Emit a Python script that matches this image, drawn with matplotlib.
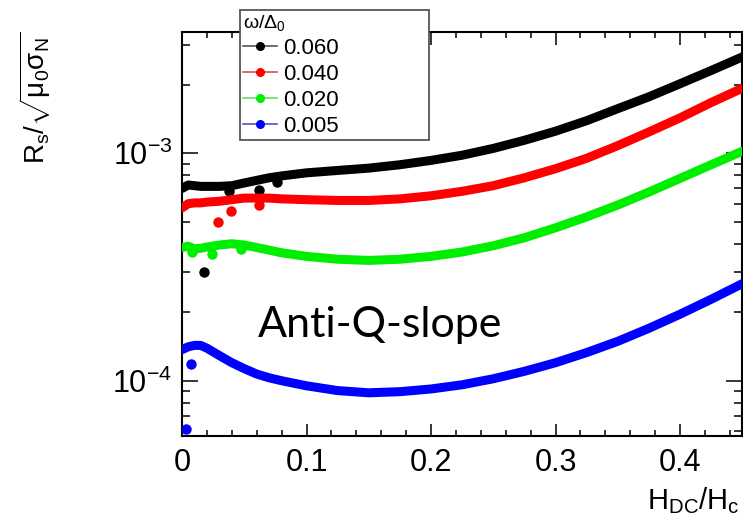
import matplotlib
matplotlib.use('Agg')
from matplotlib import pyplot as plt
from matplotlib import ticker
from matplotlib.lines import Line2D

# field values (H_DC/H_c)
h_dc = [0, 0.005, 0.01, 0.015, 0.02, 0.03, 0.04, 0.05, 0.06, 0.07, 0.08, 0.1, 0.125,
        0.15, 0.175, 0.2, 0.225, 0.25, 0.275, 0.3, 0.325, 0.35, 0.375, 0.4, 0.425, 0.45]

labels = ['0.060', '0.040', '0.020', '0.005']
colors = ['black', 'red', '#00ee00', 'blue']
line_colors = ['#555555', '#d85050', '#60e060', '#5050c8']

rs_060 = [7.0e-4, 7.25e-4, 7.2e-4, 7.15e-4, 7.15e-4, 7.15e-4, 7.2e-4, 7.4e-4, 7.6e-4, 7.8e-4,
          7.95e-4, 8.2e-4, 8.4e-4, 8.6e-4, 8.9e-4, 9.3e-4, 9.8e-4, 1.05e-3, 1.14e-3, 1.25e-3,
          1.39e-3, 1.57e-3, 1.77e-3, 2.02e-3, 2.31e-3, 2.65e-3]
rs_040 = [5.75e-4, 6.0e-4, 6.05e-4, 6.05e-4, 6.1e-4, 6.15e-4, 6.25e-4, 6.35e-4, 6.35e-4, 6.35e-4,
          6.3e-4, 6.25e-4, 6.2e-4, 6.2e-4, 6.3e-4, 6.5e-4, 6.8e-4, 7.2e-4, 7.8e-4, 8.55e-4,
          9.5e-4, 1.08e-3, 1.24e-3, 1.43e-3, 1.67e-3, 1.93e-3]
rs_020 = [3.85e-4, 3.9e-4, 3.8e-4, 3.82e-4, 3.87e-4, 3.95e-4, 4.0e-4, 3.95e-4, 3.85e-4, 3.75e-4,
          3.65e-4, 3.52e-4, 3.42e-4, 3.38e-4, 3.42e-4, 3.52e-4, 3.68e-4, 3.92e-4, 4.25e-4, 4.7e-4,
          5.25e-4, 5.92e-4, 6.75e-4, 7.75e-4, 8.9e-4, 1.02e-3]
rs_005 = [1.37e-4, 1.41e-4, 1.43e-4, 1.43e-4, 1.39e-4, 1.29e-4, 1.2e-4, 1.13e-4, 1.07e-4, 1.03e-4,
          1.0e-4, 9.5e-5, 9.05e-5, 8.85e-5, 8.95e-5, 9.2e-5, 9.6e-5, 1.02e-4, 1.1e-4, 1.2e-4,
          1.33e-4, 1.49e-4, 1.7e-4, 1.96e-4, 2.28e-4, 2.67e-4]

# scattered points off the main curves
out_h_060 = [0.018, 0.038, 0.062, 0.076]
out_rs_060 = [3.0e-4, 6.8e-4, 6.9e-4, 7.45e-4]
out_h_040 = [0.029, 0.039, 0.062]
out_rs_040 = [5.0e-4, 5.6e-4, 5.9e-4]
out_h_020 = [0.008, 0.024, 0.047]
out_rs_020 = [3.67e-4, 3.6e-4, 3.8e-4]
out_h_005 = [0.007, 0.003]
out_rs_005 = [1.19e-4, 6.15e-5]


def plot():
    plt.rcParams['font.family'] = ['Liberation Sans', 'DejaVu Sans']
    plt.rcParams['mathtext.fontset'] = 'custom'
    plt.rcParams['mathtext.rm'] = 'Liberation Sans'
    plt.rcParams['mathtext.it'] = 'Liberation Sans'
    plt.rcParams['mathtext.default'] = 'regular'

    fig = plt.figure(figsize=(7.43, 5.25), dpi=100)
    ax = fig.add_axes([0.245, 0.17, 0.754, 0.769])

    curves = [rs_060, rs_040, rs_020, rs_005]
    outliers = [(out_h_060, out_rs_060), (out_h_040, out_rs_040),
                (out_h_020, out_rs_020), (out_h_005, out_rs_005)]
    for rs, (oh, ors), c in zip(curves, outliers, colors):
        ax.plot(h_dc, rs, color=c, lw=6.5, solid_capstyle='round',
                solid_joinstyle='round', zorder=3)
        ax.plot(oh, ors, 'o', color=c, ms=7.5, mew=0, zorder=3)

    ax.set_yscale('log')
    ax.set_xlim(0, 0.45)
    ax.set_ylim(5.73e-5, 3.41e-3)

    ax.xaxis.set_major_locator(ticker.MultipleLocator(0.1))
    ax.xaxis.set_minor_locator(ticker.MultipleLocator(0.02))
    ax.xaxis.set_major_formatter(ticker.FuncFormatter(lambda v, p: '0' if v == 0 else f'{v:g}'))
    ax.yaxis.set_minor_formatter(ticker.NullFormatter())

    ax.tick_params(which='both', direction='in', top=True, right=True, width=1.1)
    ax.tick_params(axis='x', which='major', length=9, labelsize=22, pad=9)
    ax.tick_params(axis='x', which='minor', length=4.5)
    ax.tick_params(axis='y', which='major', length=11.5, labelsize=22, pad=7)
    ax.tick_params(axis='y', which='minor', length=6)
    for s in ax.spines.values():
        s.set_linewidth(1.5)

    fig.text(0.995, 0.03, r'$H_{DC}/H_c$', ha='right', va='baseline', fontsize=21)
    fig.text(0.047, 0.94, r'$R_s/\sqrt{\mu_0\sigma_N}$', rotation=90,
             ha='center', va='top', fontsize=20)

    fig.text(258 / 743, 1 - 337 / 525, 'Anti-Q-slope', family='Lato',
             fontsize=31, ha='left', va='baseline')

    handles = [Line2D([], [], color=lc, lw=1.2, marker='o', ms=5.5, mfc=c, mec=c)
               for c, lc in zip(colors, line_colors)]
    leg = fig.legend(handles, labels, title=r'$\omega/\Delta_0$', loc='upper left',
                     bbox_to_anchor=(240 / 743, 1 - 146 / 525, 189 / 743, 136 / 525),
                     mode='expand', borderaxespad=0, fontsize=16,
                     title_fontsize=14, fancybox=False, framealpha=1, edgecolor='#555555',
                     handlelength=1.5, handletextpad=0.3, labelspacing=0.22,
                     borderpad=0.15, alignment='left')
    leg.get_frame().set_linewidth(1.3)

    fig.savefig('out.png', dpi=100)


plot()
